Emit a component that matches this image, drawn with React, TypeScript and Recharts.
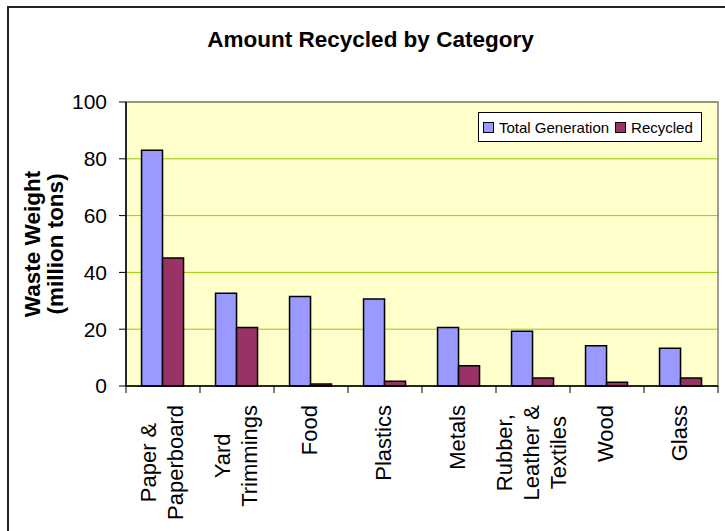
import React from 'react';
import { BarChart, Bar, XAxis, YAxis, CartesianGrid, Legend, ReferenceArea } from 'recharts';

const categories = ['Paper &\nPaperboard', 'Yard\nTrimmings', 'Food', 'Plastics', 'Metals', 'Rubber,\nLeather &\nTextiles', 'Wood', 'Glass'];
const totalGeneration = [83.0, 32.7, 31.5, 30.6, 20.6, 19.3, 14.2, 13.3];
const recycled = [45.1, 20.6, 0.7, 1.7, 7.1, 2.8, 1.3, 2.8];
const yTicks = [0, 20, 40, 60, 80, 100];

const seriesNames = ['Total Generation', 'Recycled'];
const colors = ['#9999FF', '#993366'];

const data = categories.map((c, i) => ({ category: c, total: totalGeneration[i], recycled: recycled[i] }));

const FONT = "'Liberation Sans', Arial, sans-serif";
const W = 725;
const H = 531;
const PLOT_LEFT = 126;
const PLOT_RIGHT = 7;
const PLOT_TOP = 102;
const PLOT_BOTTOM = 145;

let canvasCtx: CanvasRenderingContext2D | null = null;
function measure(text: string, font: string): number {
  if (!canvasCtx) {
    const c = document.createElement('canvas');
    canvasCtx = c.getContext('2d');
  }
  if (!canvasCtx) return text.length * 11;
  canvasCtx.font = font;
  return canvasCtx.measureText(text).width;
}

const LABEL_SIZE = 22;
const LINE_H = 27;

function XTick(props: any) {
  const { x, y, payload, index, width } = props;
  const band = (width || (W - PLOT_LEFT - PLOT_RIGHT)) / categories.length;
  const lines = String(payload.value).split('\n');
  const font = `${LABEL_SIZE}px ${FONT}`;
  const maxW = Math.max(...lines.map((l) => measure(l, font)));
  const top = y + 19;
  const n = lines.length;
  return (
    <g>
      <line x1={x - band / 2} x2={x - band / 2} y1={y} y2={y + 7} stroke="#000" strokeWidth={1} />
      {index === categories.length - 1 && (
        <line x1={x + band / 2} x2={x + band / 2} y1={y} y2={y + 7} stroke="#000" strokeWidth={1} />
      )}
      <g transform={`translate(${x}, ${top + maxW / 2}) rotate(-90)`}>
        {lines.map((l, i) => (
          <text
            key={i}
            x={0}
            y={6 + (i - (n - 1) / 2) * LINE_H}
            textAnchor="middle"
            fontFamily={FONT}
            fontSize={LABEL_SIZE}
            fill="#000"
          >
            {l}
          </text>
        ))}
      </g>
    </g>
  );
}

function LegendBox() {
  return (
    <div
      style={{
        border: '1px solid #000',
        background: '#fff',
        width: 224,
        height: 30,
        boxSizing: 'border-box',
        display: 'flex',
        alignItems: 'center',
        fontFamily: FONT,
        fontSize: 15,
        color: '#000',
        paddingLeft: 4,
        whiteSpace: 'nowrap',
      }}
    >
      {seriesNames.map((name, i) => (
        <span key={name} style={{ display: 'flex', alignItems: 'center', marginRight: i === 0 ? 6 : 0 }}>
          <span
            style={{
              display: 'inline-block',
              width: 9,
              height: 9,
              background: colors[i],
              border: '1px solid #000',
              marginRight: 5,
            }}
          />
          {name}
        </span>
      ))}
    </div>
  );
}

export default function App() {
  return (
    <div style={{ position: 'absolute', left: 0, top: 0, width: W, height: H, background: '#fff' }}>
      <div
        style={{
          position: 'absolute',
          left: 7,
          top: 6,
          width: W - 7,
          height: H - 6,
          borderTop: '2px solid #222',
          borderLeft: '2px solid #222',
          boxSizing: 'border-box',
          pointerEvents: 'none',
        }}
      />
      <BarChart
        width={W}
        height={H}
        data={data}
        margin={{ top: PLOT_TOP, right: PLOT_RIGHT, bottom: 0, left: 0 }}
        barCategoryGap="21%"
        barGap={0}
        style={{ position: 'absolute', left: 0, top: 0 }}
      >
        <CartesianGrid vertical={false} fill="#FFFFCC" fillOpacity={1} stroke="#99CC00" strokeWidth={1} />
        <XAxis
          dataKey="category"
          height={PLOT_BOTTOM}
          interval={0}
          tickLine={false}
          tickSize={0}
          tickMargin={0}
          axisLine={{ stroke: '#000', strokeWidth: 1.5 }}
          tick={<XTick />}
        />
        <YAxis
          width={PLOT_LEFT}
          domain={[0, 100]}
          ticks={yTicks}
          interval={0}
          tickSize={7}
          tickMargin={12}
          tickLine={{ stroke: '#000' }}
          axisLine={{ stroke: '#000', strokeWidth: 1.5 }}
          tick={{ fontFamily: FONT, fontSize: 21, fill: '#000' }}
        />
        <ReferenceArea y1={0} y2={100} fill="none" stroke="#808080" strokeWidth={1.5} ifOverflow="visible" />
        <Bar dataKey="total" name={seriesNames[0]} fill={colors[0]} stroke="#000" strokeWidth={1.5} isAnimationActive={false} />
        <Bar dataKey="recycled" name={seriesNames[1]} fill={colors[1]} stroke="#000" strokeWidth={1.5} isAnimationActive={false} />
        <Legend
          layout="horizontal"
          align="center"
          verticalAlign="middle"
          content={() => <LegendBox />}
          wrapperStyle={{ left: 478, top: 112, width: 'auto' }}
        />
        <text x={370.5} y={47} textAnchor="middle" fontFamily={FONT} fontSize={22.5} fontWeight="bold" fill="#000">
          Amount Recycled by Category
        </text>
        <g transform={`translate(40, 244) rotate(-90)`}>
          <text x={0} y={0} textAnchor="middle" fontFamily={FONT} fontSize={22.5} fontWeight="bold" fill="#000">
            Waste Weight
          </text>
          <text x={0} y={23} textAnchor="middle" fontFamily={FONT} fontSize={22.5} fontWeight="bold" fill="#000">
            (million tons)
          </text>
        </g>
      </BarChart>
    </div>
  );
}
